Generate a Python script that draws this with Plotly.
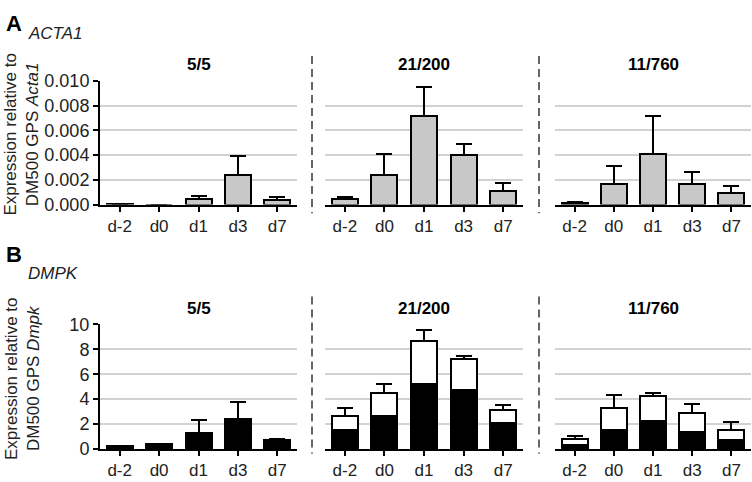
import plotly.graph_objects as go

days = ["d-2", "d0", "d1", "d3", "d7"]
groups = ["5/5", "21/200", "11/760"]

# Panel A: ACTA1 (mean, upper error top)
acta1_mean = [
    [0.00005, 0.0, 0.00049, 0.00243, 0.00034],
    [0.00049, 0.0024, 0.00713, 0.00398, 0.00112],
    [0.00013, 0.00164, 0.00406, 0.00164, 0.00094],
]
acta1_cap = [
    [0.00005, 0.0, 0.00073, 0.0039, 0.00065],
    [0.0006, 0.0041, 0.00953, 0.0049, 0.00171],
    [0.00023, 0.00313, 0.00718, 0.0026, 0.00153],
]

# Panel B: DMPK, black (lower) and white (upper, stacked) segments
dmpk_black = [
    [0.21, 0.37, 1.31, 2.39, 0.71],
    [1.55, 2.63, 5.18, 4.74, 2.11],
    [0.32, 1.55, 2.23, 1.37, 0.71],
]
dmpk_black_cap = [
    [0.21, 0.42, 2.29, 3.79, 0.84],
    [2.32, 3.45, 5.77, 5.03, 2.86],
    [0.55, 1.84, 2.27, 1.74, 0.71],
]
dmpk_total = [
    None,
    [2.68, 4.48, 8.66, 7.24, 3.17],
    [0.84, 3.31, 4.26, 2.89, 1.55],
]
dmpk_total_cap = [
    None,
    [3.27, 5.23, 9.54, 7.45, 3.5],
    [1.05, 4.31, 4.47, 3.6, 2.13],
]

W, H = 752, 482
FONT = "Liberation Sans, Arial, sans-serif"
FS = 17

xdom_px = [(100, 297), (325, 523), (555, 751)]
ydomA_px = (74, 203)
ydomB_px = (328, 458)


def xd(p):
    return [p[0] / W, p[1] / W]


def yd(p):
    return [1 - p[1] / H, 1 - p[0] / H]


fig = go.Figure()
layout = {}

def err(vals, caps):
    return dict(type="data", symmetric=False,
                array=[c - v for c, v in zip(caps, vals)],
                arrayminus=[0] * len(vals),
                color="black", thickness=2, width=8)

for g in range(3):
    ia = g + 1
    ib = g + 4
    xa = "x" if ia == 1 else f"x{ia}"
    ya = "y" if ia == 1 else f"y{ia}"
    xb = f"x{ib}"
    yb = f"y{ib}"

    fig.add_trace(go.Bar(
        x=days, y=acta1_mean[g], xaxis=xa, yaxis=ya,
        marker=dict(color="#c8c8c8", line=dict(color="black", width=2)),
        error_y=err(acta1_mean[g], acta1_cap[g]), showlegend=False,
    ))
    fig.add_trace(go.Bar(
        x=days, y=dmpk_black[g], xaxis=xb, yaxis=yb,
        marker=dict(color="black", line=dict(color="black", width=2)),
        error_y=err(dmpk_black[g], dmpk_black_cap[g]), showlegend=False,
    ))
    if dmpk_total[g] is not None:
        white = [t - b for t, b in zip(dmpk_total[g], dmpk_black[g])]
        fig.add_trace(go.Bar(
            x=days, y=white, xaxis=xb, yaxis=yb,
            marker=dict(color="white", line=dict(color="black", width=2)),
            error_y=err(dmpk_total[g], dmpk_total_cap[g]), showlegend=False,
        ))

    for idx, ydom, rng, dtick, fmt in [
        (ia, ydomA_px, [0, 0.010], 0.002, ".3f"),
        (ib, ydomB_px, [0, 10], 2, "d"),
    ]:
        xkey = "xaxis" if idx == 1 else f"xaxis{idx}"
        ykey = "yaxis" if idx == 1 else f"yaxis{idx}"
        xname = "x" if idx == 1 else f"x{idx}"
        yname = "y" if idx == 1 else f"y{idx}"
        layout[xkey] = dict(
            domain=xd(xdom_px[g]), anchor=yname, type="category",
            categoryorder="array", categoryarray=days,
            showline=True, linecolor="black", linewidth=2,
            ticks="outside", ticklen=5, tickwidth=1.5, tickcolor="black",
            tickfont=dict(family=FONT, size=FS, color="#222"),
            showgrid=False, zeroline=False, fixedrange=True,
        )
        first = (g == 0)
        layout[ykey] = dict(
            domain=yd(ydom), anchor=xname, range=rng, dtick=dtick,
            tickformat=fmt, showgrid=True, gridcolor="#d2d2d2", gridwidth=1.5,
            zeroline=False, showline=first, linecolor="black", linewidth=2,
            ticks="outside" if first else "", ticklen=5, tickwidth=1.5,
            tickcolor="black", showticklabels=first,
            tickfont=dict(family=FONT, size=18, color="#222"),
            fixedrange=True,
        )

annotations = []
title_x = [(a + b) / 2 / W for a, b in xdom_px]
for g in range(3):
    for ty in (57, 311):
        annotations.append(dict(
            x=title_x[g], y=1 - ty / H, xref="paper", yref="paper",
            text=f"<b>{groups[g]}</b>", showarrow=False,
            font=dict(family=FONT, size=FS, color="black"),
            xanchor="center", yanchor="middle",
        ))

annotations += [
    dict(x=4 / W, y=1 - 14 / H, xref="paper", yref="paper", text="<b>A</b>",
         showarrow=False, xanchor="left", yanchor="middle",
         font=dict(family=FONT, size=22, color="black")),
    dict(x=26 / W, y=1 - 24 / H, xref="paper", yref="paper", text="<i>ACTA1</i>",
         showarrow=False, xanchor="left", yanchor="middle",
         font=dict(family=FONT, size=FS, color="#222")),
    dict(x=4 / W, y=1 - 255 / H, xref="paper", yref="paper", text="<b>B</b>",
         showarrow=False, xanchor="left", yanchor="middle",
         font=dict(family=FONT, size=22, color="black")),
    dict(x=26 / W, y=1 - 275 / H, xref="paper", yref="paper", text="<i>DMPK</i>",
         showarrow=False, xanchor="left", yanchor="middle",
         font=dict(family=FONT, size=FS, color="#222")),
    dict(x=22 / W, y=1 - 130 / H, xref="paper", yref="paper",
         text="Expression relative to<br>DM500 GPS <i>Acta1</i>", textangle=-90,
         showarrow=False, xanchor="center", yanchor="middle",
         font=dict(family=FONT, size=FS, color="#222")),
    dict(x=22 / W, y=1 - 385 / H, xref="paper", yref="paper",
         text="Expression relative to<br>DM500 GPS <i>Dmpk</i>", textangle=-90,
         showarrow=False, xanchor="center", yanchor="middle",
         font=dict(family=FONT, size=FS, color="#222")),
]

shapes = []
for xpx in (312, 539):
    for y0, y1 in ((48, 212), (299, 463)):
        shapes.append(dict(
            type="line", xref="paper", yref="paper",
            x0=xpx / W, x1=xpx / W, y0=1 - y0 / H, y1=1 - y1 / H,
            line=dict(color="#333", width=1.5, dash="8px,5px"),
        ))

fig.update_layout(
    width=W, height=H, autosize=False,
    margin=dict(l=0, r=0, t=0, b=0),
    paper_bgcolor="white", plot_bgcolor="white",
    barmode="stack", bargap=0.34,
    annotations=annotations, shapes=shapes,
    **layout,
)

fig.write_html(
    "out.html",
    config={"displayModeBar": False},
    post_script=(
        "document.documentElement.style.margin='0';"
        "document.body.style.margin='0';document.body.style.overflow='hidden';"
        "var d=document.getElementById('{plot_id}');"
        "d.style.position='fixed';d.style.left='0';d.style.top='0';"
    ),
)
